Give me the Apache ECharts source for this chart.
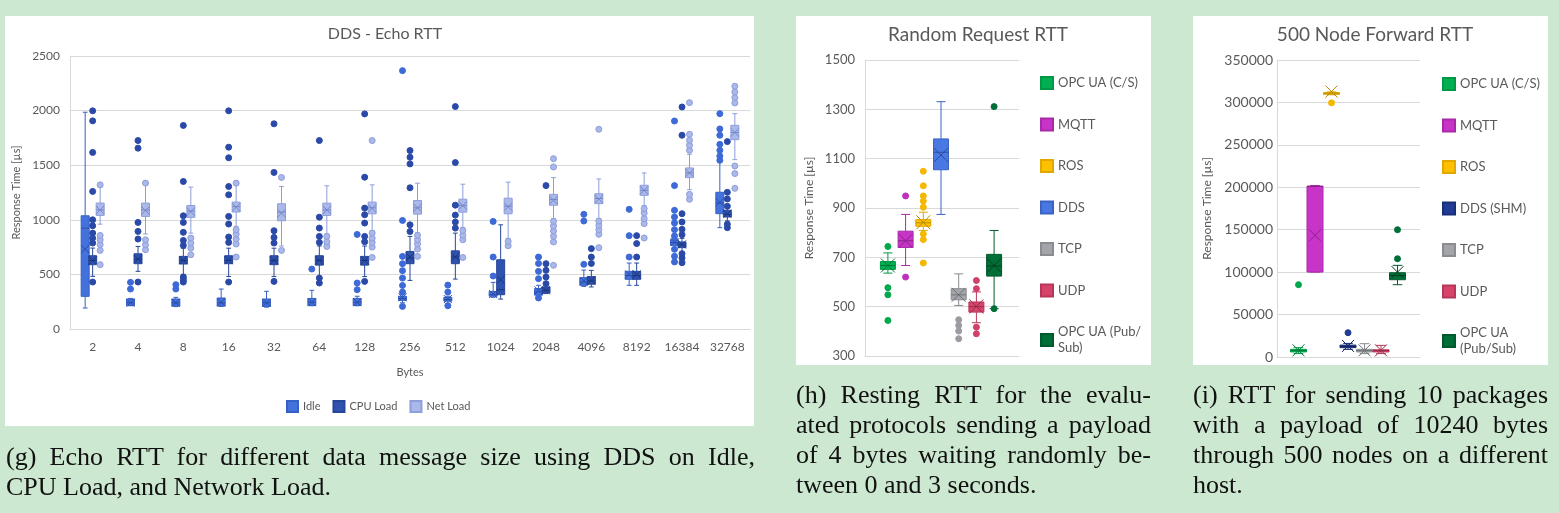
<!DOCTYPE html>
<html><head><meta charset="utf-8">
<script src="https://cdn.jsdelivr.net/npm/echarts@6/dist/echarts.min.js"></script>
<style>
html,body{margin:0;padding:0;background:#cde8d0;width:1559px;height:513px;overflow:hidden;}
#chart{position:absolute;left:0;top:0;width:1559px;height:513px;}
.cap{position:absolute;font-family:"Liberation Serif","Times New Roman",serif;font-size:26px;line-height:30px;color:#111;}
.j{text-align:justify;text-align-last:justify;}
</style></head><body>
<div id="chart"></div>
<div class="cap" style="left:6px;top:442px;width:749px;">
<div class="j">(g) Echo RTT for different data message size using DDS on Idle,</div>
<div>CPU Load, and Network Load.</div>
</div>
<div class="cap" style="left:796px;top:380px;width:355px;">
<div class="j">(h) Resting RTT for the evalu-</div>
<div class="j">ated protocols sending a payload</div>
<div class="j">of 4 bytes waiting randomly be-</div>
<div>tween 0 and 3 seconds.</div>
</div>
<div class="cap" style="left:1193px;top:380px;width:355px;">
<div class="j">(i) RTT for sending 10 packages</div>
<div class="j">with a payload of 10240 bytes</div>
<div class="j">through 500 nodes on a different</div>
<div>host.</div>
</div>
<script>
// ---------- (g) DDS - Echo RTT ----------
const bytesCats = ['2','4','8','16','32','64','128','256','512','1024','2048','4096','8192','16384','32768'];
// [min, q1, median, q3, max, mean]
const idleStats = [
  [192,299,924,1037,1985,732],[214,214,240,275,280,240],[205,210,240,275,290,240],[207,210,240,284,366,245],
  [200,207,240,275,345,240],[213,215,245,280,354,245],[213,215,245,280,300,245],[240,262,280,300,315,290],
  [235,255,270,290,300,274],[290,300,315,344,427,320],[300,310,340,370,400,354],[390,400,430,470,540,440],
  [400,455,490,528,604,500],[720,766,790,818,830,797],[928,1056,1154,1252,1530,1160]
];
const cpuStats = [
  [482,589,628,671,741,628],[528,598,640,689,756,640],[500,595,628,665,740,630],[480,598,628,671,740,630],
  [480,589,628,671,740,628],[480,585,628,671,760,628],[480,585,628,665,760,628],[445,598,650,710,848,660],
  [457,598,660,716,878,660],[274,314,360,634,954,451],[324,330,354,385,400,354],[385,410,440,480,537,445],
  [400,455,490,528,604,500],[700,745,770,797,830,775],[990,1026,1050,1087,1110,1056]
];
const netStats = [
  [960,1040,1090,1153,1300,1090],[870,1031,1090,1153,1320,1085],[878,1022,1080,1131,1299,1075],[940,1071,1120,1162,1320,1115],
  [760,991,1070,1147,1305,1060],[870,1040,1090,1152,1311,1090],[900,1055,1110,1162,1320,1105],[880,1052,1110,1177,1335,1110],
  [930,1070,1130,1189,1326,1130],[830,1055,1125,1198,1345,1120],[1010,1133,1185,1233,1386,1180],[1010,1148,1195,1239,1374,1190],
  [1130,1224,1270,1316,1429,1270],[1276,1386,1430,1475,1600,1430],[1551,1734,1800,1865,1972,1800]
];
const idleOutliers = [
  [],[366,427],[366,406],[],[],[549],[360,421,866],[207,338,399,466,534,598,665,994,2366],[213,338,402],
  [485,659,985],[284,461,528,600,659],[592,989,1050],[659,855,1096],[614,666,730,852,910,971,1026,1087,1313,1905],
  [1545,1584,1636,1691,1774,1832,1972]
];
const cpuOutliers = [
  [430,787,832,878,945,1000,1260,1617,1906,1998],[430,824,894,976,1656,1726],[430,451,476,765,811,885,976,1037,1351,1864],
  [430,793,842,961,1031,1229,1305,1568,1665,1998],[436,787,839,900,1434,1879],[421,466,793,848,924,1024,1726],
  [436,799,848,970,1046,1107,1390,1970],[893,954,1293,1512,1573,1634],[924,979,1043,1134,1524,2037],[],
  [415,476,537,598,1313],[600,659,736],[659,782,855],[607,650,690,864,913,980,1056,1774,2033],[928,960,1124,1191,1252,1716]
];
const netOutliers = [
  [589,720,772,817,857,1320],[726,772,817,1336],[680,741,787,833],[659,778,824,869,909,1336],[720,1388],[756,799,848],
  [655,750,793,832,878,1726],[665,732,778,817,857],[655,817,857,902],[762,802],[583,797,849,898,943,986,1484,1560],
  [745,867,910,949,989,1829],[833,965,1010,1062,1102],[1188,1233,1636,1682,1728,1783,2073],[1288,1423,1493,2070,2119,2171,2223]
];
const echoTicks = [0, 500, 1000, 1500, 2000, 2500];

// ---------- (h) Random Request RTT ----------
const protocolsH = ['OPC UA (C/S)','MQTT','ROS','DDS','TCP','UDP','OPC UA (Pub/Sub)'];
const statsH = [
  [636,651,667,683,718,667],[667,740,767,806,874,767],[809,826,840,853,883,842],[874,1055,1126,1180,1331,1115],
  [505,528,548,573,633,548],[435,478,500,519,560,501],[492,624,665,712,809,667]
];
const outliersH = [[444,548,577,744],[620,949],[677,772,795,903,928,949,990,1049],[],[370,401,424,447],[390,417,573,606],[492,1311]];

// ---------- (i) 500 Node Forward RTT ----------
const protocolsI = ['OPC UA (C/S)','MQTT','ROS','DDS (SHM)','TCP','UDP','OPC UA (Pub/Sub)'];
const statsI = [
  [4000,6000,7500,9000,11000,7850],[100100,100100,201000,201400,202100,143300],[309000,309500,310900,311500,312500,312800],
  [9000,11000,12500,14000,16000,13000],[4000,6000,7500,9000,15700,7850],[4000,6000,7500,8500,13700,7850],
  [85200,91060,96000,99300,108000,100000]
];
const outliersI = [[85200],[],[299500],[28650],[],[],[115800,150000]];

// ---------- styles ----------
const palette = {
  'Idle': {fill:'#4472dd', stroke:'#3560c4', mark:'#2a4fa8', dot:'#3d6ad6', dotStroke:'#3d6ad6'},
  'CPU Load': {fill:'#2f52b0', stroke:'#26469a', mark:'#1c367c', dot:'#2b4aa8', dotStroke:'#2b4aa8'},
  'Net Load': {fill:'#aab8ea', stroke:'#8e9eda', mark:'#7587c9', dot:'#aab8ea', dotStroke:'#8e9eda'},
  'OPC UA (C/S)': {fill:'#00b050', stroke:'#009846', mark:'#007a38', dot:'#00a84c'},
  'MQTT': {fill:'#c834c8', stroke:'#a92aa9', mark:'#8a228a', dot:'#c030c0'},
  'ROS': {fill:'#ffc000', stroke:'#e0a800', mark:'#b88a00', dot:'#f5b800'},
  'DDS': {fill:'#4a78e2', stroke:'#3a63c4', mark:'#2d4fa0', dot:'#4a78e2'},
  'DDS (SHM)': {fill:'#203c94', stroke:'#182e78', mark:'#132560', dot:'#203c94'},
  'TCP': {fill:'#a3a5aa', stroke:'#8a8c91', mark:'#6e7075', dot:'#9a9ca1'},
  'UDP': {fill:'#d6446c', stroke:'#b83759', mark:'#962c48', dot:'#d0406a'},
  'OPC UA (Pub/Sub)': {fill:'#006e37', stroke:'#005a2c', mark:'#004020', dot:'#006e37'}
};
const txt = '#595959', grid = '#d9d9d9', font = 'Lato, "Open Sans", sans-serif';

function boxRender(offset, width, c, m) {
  return function (params, api) {
    const i = api.value(0);
    const P = k => api.coord([i, api.value(k)]);
    const pMin = P(1), pQ1 = P(2), pMed = P(3), pQ3 = P(4), pMax = P(5), pMean = P(6);
    const x = pMin[0] + offset, hw = width / 2, cap = Math.max(2, width * 0.3);
    const ls = {stroke: c.stroke, lineWidth: 1};
    const ms = {stroke: c.mark, lineWidth: 1};
    return {type: 'group', children: [
      {type: 'line', shape: {x1: x, y1: pMax[1], x2: x, y2: pQ3[1]}, style: ls},
      {type: 'line', shape: {x1: x, y1: pQ1[1], x2: x, y2: pMin[1]}, style: ls},
      {type: 'line', shape: {x1: x - cap, y1: pMax[1], x2: x + cap, y2: pMax[1]}, style: ls},
      {type: 'line', shape: {x1: x - cap, y1: pMin[1], x2: x + cap, y2: pMin[1]}, style: ls},
      {type: 'rect', shape: {x: x - hw, y: pQ3[1], width: width, height: Math.max(1, pQ1[1] - pQ3[1])}, style: {fill: c.fill, stroke: c.stroke, lineWidth: 1}},
      {type: 'line', shape: {x1: x - hw, y1: pMed[1], x2: x + hw, y2: pMed[1]}, style: ms},
      {type: 'line', shape: {x1: x - m, y1: pMean[1] - m, x2: x + m, y2: pMean[1] + m}, style: ms},
      {type: 'line', shape: {x1: x - m, y1: pMean[1] + m, x2: x + m, y2: pMean[1] - m}, style: ms}
    ]};
  };
}
function boxSeries(name, axisIdx, rows, offset, width, m) {
  const c = palette[name];
  return {
    type: 'custom', name: name, xAxisIndex: axisIdx, yAxisIndex: axisIdx,
    itemStyle: {color: c.fill, borderColor: c.stroke, borderWidth: 1},
    encode: {x: 0, y: [1, 2, 3, 4, 5, 6]},
    data: rows.map(r => [r.i].concat(r.s)),
    renderItem: boxRender(offset, width, c, m), z: 2
  };
}
function dotSeries(name, axisIdx, pts, offset, size) {
  const c = palette[name];
  return {
    type: 'scatter', name: name + ' outliers', xAxisIndex: axisIdx, yAxisIndex: axisIdx,
    symbol: 'circle', symbolSize: size, symbolOffset: [offset, 0],
    itemStyle: {color: c.dot, borderColor: c.dotStroke || c.dot, borderWidth: 1, opacity: 1},
    data: pts, silent: true, z: 3
  };
}

const series = [];
// (g)
[['Idle', idleStats, idleOutliers, -7.5], ['CPU Load', cpuStats, cpuOutliers, 0], ['Net Load', netStats, netOutliers, 7.5]]
.forEach(([name, st, out, off]) => {
  series.push(boxSeries(name, 0, st.map((s, i) => ({i: i, s: s})), off, 8, 4));
  const pts = [];
  out.forEach((arr, i) => arr.forEach(v => pts.push([i, v])));
  series.push(dotSeries(name, 0, pts, off, 6));
});
// (h)
protocolsH.forEach((name, k) => {
  const off = (k - 3) * 17.7 - 1;
  series.push(boxSeries(name, 1, [{i: 0, s: statsH[k]}], off, 15, 7));
  series.push(dotSeries(name, 1, outliersH[k].map(v => [0, v]), off, 6));
});
// (i)
protocolsI.forEach((name, k) => {
  const off = (k - 3) * 16.5 - 0.5;
  series.push(boxSeries(name, 2, [{i: 0, s: statsI[k]}], off, 16, 6));
  series.push(dotSeries(name, 2, outliersI[k].map(v => [0, v]), off, 6));
});

function yAx(idx, min, max, interval, fs, margin, gap, nameFs) {
  return {
    type: 'value', gridIndex: idx, min: min, max: max, interval: interval,
    name: 'Response Time [µs]', nameLocation: 'middle', nameGap: gap,
    nameTextStyle: {color: txt, fontSize: nameFs, fontFamily: font},
    axisLine: {show: true, lineStyle: {color: grid}}, axisTick: {show: false},
    axisLabel: {color: txt, fontSize: fs, fontFamily: font, margin: margin, formatter: v => String(v)},
    splitLine: {lineStyle: {color: grid, width: 1}}
  };
}
const legendText = {color: txt, fontSize: 13, fontFamily: font, lineHeight: 16};

const option = {
  animation: false,
  graphic: [
    {type: 'rect', shape: {x: 5, y: 16, width: 749, height: 410}, style: {fill: '#fff'}, z: -10},
    {type: 'rect', shape: {x: 796, y: 16, width: 355, height: 349}, style: {fill: '#fff'}, z: -10},
    {type: 'rect', shape: {x: 1193, y: 16, width: 355, height: 349}, style: {fill: '#fff'}, z: -10}
  ],
  title: [
    {text: 'DDS - Echo RTT', left: 380, top: 21, textAlign: 'center', textStyle: {color: txt, fontSize: 16, fontWeight: 'normal', fontFamily: font}},
    {text: 'Random Request RTT', left: 973, top: 20, textAlign: 'center', textStyle: {color: txt, fontSize: 19, fontWeight: 'normal', fontFamily: font}},
    {text: '500 Node Forward RTT', left: 1370, top: 20, textAlign: 'center', textStyle: {color: txt, fontSize: 19, fontWeight: 'normal', fontFamily: font}}
  ],
  legend: [
    {data: ['Idle', 'CPU Load', 'Net Load'], left: 286, top: 400, itemWidth: 11, itemHeight: 11, itemGap: 12, icon: 'rect', padding: 0,
     textStyle: {color: txt, fontSize: 11, fontFamily: font}},
    {data: protocolsH, orient: 'vertical', left: 1040, top: 75, itemWidth: 12, itemHeight: 12, itemGap: 25.5, icon: 'rect', padding: 0,
     textStyle: legendText, formatter: n => n === 'OPC UA (Pub/Sub)' ? 'OPC UA (Pub/\nSub)' : n},
    {data: protocolsI, orient: 'vertical', left: 1442, top: 76, itemWidth: 12, itemHeight: 12, itemGap: 25.5, icon: 'rect', padding: 0,
     textStyle: legendText, formatter: n => n === 'OPC UA (Pub/Sub)' ? 'OPC UA\n(Pub/Sub)' : n}
  ],
  grid: [
    {left: 70, top: 56, width: 680, height: 273},
    {left: 865, top: 60, width: 154, height: 296},
    {left: 1277, top: 60, width: 143, height: 297}
  ],
  xAxis: [
    {type: 'category', gridIndex: 0, data: bytesCats, name: 'Bytes', nameLocation: 'middle', nameGap: 38,
     nameTextStyle: {color: txt, fontSize: 11, fontFamily: font},
     axisLine: {lineStyle: {color: grid}}, axisTick: {show: false},
     axisLabel: {color: txt, fontSize: 12, fontFamily: font, margin: 12}},
    {type: 'category', gridIndex: 1, data: [''], axisLine: {lineStyle: {color: grid}}, axisTick: {show: false}, axisLabel: {show: false}},
    {type: 'category', gridIndex: 2, data: [''], axisLine: {lineStyle: {color: grid}}, axisTick: {show: false}, axisLabel: {show: false}}
  ],
  yAxis: [
    yAx(0, echoTicks[0], echoTicks[echoTicks.length - 1], 500, 12, 10, 48, 11),
    yAx(1, 300, 1500, 200, 13, 10, 50, 12),
    yAx(2, 0, 350000, 50000, 14, 4, 64, 12)
  ],
  series: series
};
const chart = echarts.init(document.getElementById('chart'), null, {renderer: 'canvas'});
chart.setOption(option);
</script>
</body></html>
